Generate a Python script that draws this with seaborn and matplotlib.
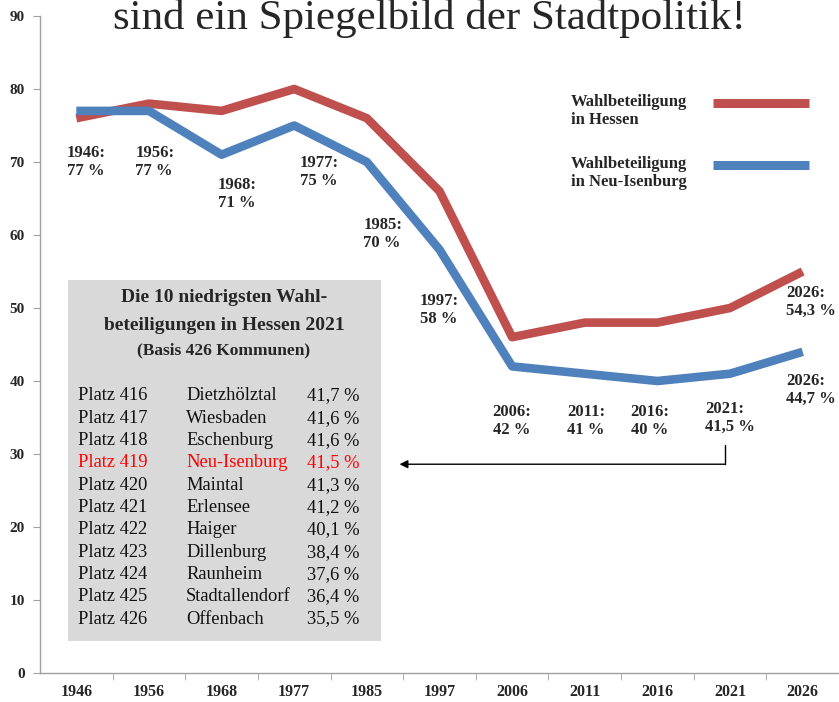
import numpy as np
import pandas as pd
import seaborn as sns
import matplotlib
matplotlib.use("Agg")
import matplotlib.pyplot as plt
from matplotlib.lines import Line2D

years = ["1946", "1956", "1968", "1977", "1985", "1997", "2006", "2011", "2016", "2021", "2026"]
hessen = [76, 78, 77, 80, 76, 66, 46, 48, 48, 50, 55]
neu_isenburg = [77, 77, 71, 75, 70, 58, 42, 41, 40, 41, 44]

label_texts = ["1946:\n77 %", "1956:\n77 %", "1968:\n71 %", "1977:\n75 %", "1985:\n70 %",
               "1997:\n58 %", "2006:\n42 %", "2011:\n41 %", "2016:\n40 %", "2021:\n41,5 %",
               "2026:\n54,3 %", "2026:\n44,7 %"]

rank = ["Platz 416", "Platz 417", "Platz 418", "Platz 419", "Platz 420", "Platz 421",
        "Platz 422", "Platz 423", "Platz 424", "Platz 425", "Platz 426"]
towns = ["Dietzhölztal", "Wiesbaden", "Eschenburg", "Neu-Isenburg", "Maintal", "Erlensee",
         "Haiger", "Dillenburg", "Raunheim", "Stadtallendorf", "Offenbach"]
turnout = ["41,7 %", "41,6 %", "41,6 %", "41,5 %", "41,3 %", "41,2 %",
           "40,1 %", "38,4 %", "37,6 %", "36,4 %", "35,5 %"]

series_names = ["Wahlbeteiligung\nin Hessen", "Wahlbeteiligung\nin Neu-Isenburg"]
RED = "#C0504D"
BLUE = "#4F81BD"

sns.set_style("white")
plt.rcParams['font.family'] = ['Liberation Serif', 'DejaVu Serif']

W, H = 839, 702
fig = plt.figure(figsize=(W / 100, H / 100), dpi=100)

def fx(x):
    return x / W

def fy(y):
    return 1 - y / H

ax = fig.add_axes([fx(40), fy(673), fx(839) - fx(40), fy(16) - fy(673)])

df = pd.DataFrame({
    "idx": list(range(len(years))) * 2,
    "val": hessen + neu_isenburg,
    "serie": [series_names[0]] * len(years) + [series_names[1]] * len(years),
})
sns.lineplot(data=df, x="idx", y="val", hue="serie", palette=[RED, BLUE],
             linewidth=6.2, ax=ax, legend=False, solid_capstyle="butt")

ax.set_xlim(-0.5, len(years) - 0.5)
ax.set_ylim(0, 90)
ax.set_yticks(range(0, 91, 10))
ax.set_yticklabels([str(v) for v in range(0, 91, 10)], fontweight="bold", fontsize=11)
ax.set_xticks(range(len(years)))
ax.set_xticklabels(years, fontweight="bold", fontsize=11.5)
ax.set_xticks(np.arange(0.5, len(years) - 0.5, 1), minor=True)
ax.tick_params(axis="x", which="major", length=0, pad=8)
ax.tick_params(axis="x", which="minor", length=5, color="#A0A0A0", direction="out", bottom=True)
ax.tick_params(axis="y", length=5, color="#A0A0A0", direction="out", left=True, pad=6)
ax.set_xlabel("")
ax.set_ylabel("")
for s in ["top", "right"]:
    ax.spines[s].set_visible(False)
for s in ["left", "bottom"]:
    ax.spines[s].set_color("#A0A0A0")
    ax.spines[s].set_linewidth(1)

# legend (text left, line right, line level with first text line)
for name, col, ytxt in zip(series_names, [RED, BLUE], [103, 165]):
    fig.text(fx(571), fy(ytxt - 9), name, ha="left", va="top", fontsize=12,
             fontweight="bold", linespacing=1.15)
    fig.add_artist(Line2D([fx(713), fx(809)], [fy(ytxt), fy(ytxt)], color=col,
                          linewidth=6.5, solid_capstyle="butt", transform=fig.transFigure))

# point labels (data coords)
lab_pos = [(-0.13, 72.3), (0.81, 72.3), (1.95, 67.9), (3.08, 70.9), (3.95, 62.4),
           (4.73, 52.0), (5.73, 36.8), (6.76, 36.8), (7.63, 36.8), (8.66, 37.3),
           (9.77, 53.1), (9.77, 41.1)]
for (x, y), t in zip(lab_pos, label_texts):
    ax.text(x, y, t, ha="left", va="top", fontsize=12, fontweight="bold", linespacing=1.15)

# arrow from 2021 label to table
ax.plot([8.93, 8.93], [31.3, 28.6], color="black", lw=1)
ax.annotate("", xy=(4.45, 28.6), xytext=(8.935, 28.6),
            arrowprops=dict(arrowstyle="-|>", color="black", lw=1, mutation_scale=12,
                            shrinkA=0, shrinkB=0))

# title (cut off at the top)
fig.text(fx(429), fy(29), "sind ein Spiegelbild der Stadtpolitik!", ha="center", va="baseline",
         fontsize=31)

# grey table box
box = matplotlib.patches.Rectangle((fx(68), fy(641)), fx(381) - fx(68), fy(280) - fy(641),
                                   transform=fig.transFigure, facecolor="#D9D9D9",
                                   edgecolor="none", zorder=1)
fig.patches.append(box)
fig.text(fx(224), fy(298), "Die 10 niedrigsten Wahl-", ha="center", va="center",
         fontsize=14, fontweight="bold")
fig.text(fx(224), fy(326), "beteiligungen in Hessen 2021", ha="center", va="center",
         fontsize=14, fontweight="bold")
fig.text(fx(224), fy(350), "(Basis 426 Kommunen)", ha="center", va="center",
         fontsize=12.5, fontweight="bold")
for i, (r, t, p) in enumerate(zip(rank, towns, turnout)):
    y = 396 + 22.3 * i
    c = "#FF0000" if t == "Neu-Isenburg" else "#111111"
    fig.text(fx(78), fy(y), r, ha="left", va="center", fontsize=13.3, color=c)
    fig.text(fx(186), fy(y), t, ha="left", va="center", fontsize=13.3, color=c)
    fig.text(fx(307), fy(y), p, ha="left", va="center", fontsize=13.3, color=c)

fig.savefig("out.png", dpi=100)
